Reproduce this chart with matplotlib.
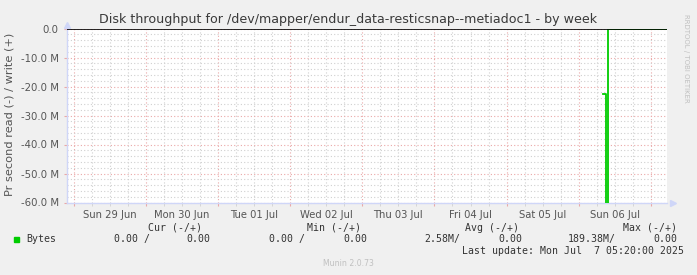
import numpy as np
import pandas as pd
import matplotlib
matplotlib.use("Agg")
import matplotlib.pyplot as plt
import matplotlib.dates as mdates
from matplotlib.ticker import FuncFormatter, MultipleLocator

# data
read_times = pd.to_datetime(["2025-07-06 08:10", "2025-07-06 08:55",
                             "2025-07-06 09:45", "2025-07-07 05:20"])
read_values = [-22.5e6, -189.38e6, 0.0, 0.0]

x_start = pd.Timestamp("2025-06-28 21:50")
x_end = pd.Timestamp("2025-07-07 05:20")
day_labels = ["Sun 29 Jun", "Mon 30 Jun", "Tue 01 Jul", "Wed 02 Jul",
              "Thu 03 Jul", "Fri 04 Jul", "Sat 05 Jul", "Sun 06 Jul"]
label_days = pd.date_range("2025-06-29 12:00", periods=len(day_labels), freq="D")

legend_heads = ["Cur (-/+)", "Min (-/+)", "Avg (-/+)", "Max (-/+)"]
legend_vals = ["0.00 /", "0.00", "0.00 /", "0.00", "2.58M/", "0.00", "189.38M/", "0.00"]

W, H = 697, 275
BG = "#f0f0f0"
GREEN = "#00cc00"
TXT = "#555555"

fig = plt.figure(figsize=(W / 100, H / 100), dpi=100, facecolor=BG)
ax = fig.add_axes([67 / W, (H - 202.5) / H, 600 / W, 174 / H])
ax.set_facecolor("white")

ax.plot(read_times, read_values, drawstyle="steps-post", color=GREEN, lw=1.3, zorder=3)
ax.axhline(0, color="black", lw=1.2, zorder=4)

ax.set_xlim(x_start, x_end)
ax.set_ylim(-60e6, 0)

# grid: minor every 6h / 2M, major at midnight / 10M
ax.xaxis.set_major_locator(mdates.DayLocator())
ax.xaxis.set_minor_locator(mdates.HourLocator(byhour=[6, 12, 18]))
ax.yaxis.set_major_locator(MultipleLocator(10e6))
ax.yaxis.set_minor_locator(MultipleLocator(2e6))
ax.grid(which="minor", color="#d0d0d0", lw=0.8, ls=(0, (1, 2)))
ax.grid(which="major", color="#eaa8a8", lw=0.8, ls=(0, (1, 2)))
ax.set_axisbelow(True)
ax.xaxis.set_ticklabels([])
ax.tick_params(axis="x", which="major", length=2, color="#eaa8a8")
ax.tick_params(axis="x", which="minor", length=2, color="#d0d0d0")
ax.tick_params(axis="y", which="major", length=2, color="#eaa8a8",
               labelsize=7.3, labelcolor=TXT, pad=4)
ax.tick_params(axis="y", which="minor", length=0)


def mfmt(v, pos):
    if v == 0:
        return "0.0"
    return f"{v / 1e6:.1f} M"


ax.yaxis.set_major_formatter(FuncFormatter(mfmt))

for d, lab in zip(label_days, day_labels):
    ax.text(d, -0.045, lab, transform=ax.get_xaxis_transform(), ha="center",
            va="top", fontsize=7.2, color=TXT)

for s in ["top", "right"]:
    ax.spines[s].set_visible(False)
for s in ["left", "bottom"]:
    ax.spines[s].set_color("#cfd6f8")
    ax.spines[s].set_linewidth(1)
# axis arrows
ax.plot([1.01], [0], marker=">", color="#cfd6f8", ms=4, transform=ax.transAxes, clip_on=False)
ax.plot([0], [1.02], marker="^", color="#cfd6f8", ms=4, transform=ax.transAxes, clip_on=False)

fig.text(348 / W, 1 - 19.5 / H, "Disk throughput for /dev/mapper/endur_data-resticsnap--metiadoc1 - by week",
         ha="center", va="center", fontsize=9.1, color="#3a3a3a")
fig.text(10 / W, 1 - 114 / H, "Pr second read (-) / write (+)", rotation=90,
         ha="center", va="center", fontsize=8.2, color=TXT)
fig.text(686 / W, 1 - 14 / H, "RRDTOOL / TOBI OETIKER", rotation=-90,
         ha="center", va="top", fontsize=5.0, color="#c0c0c0")

mono = dict(family="DejaVu Sans Mono", fontsize=7.1, color="#333333", va="center")
for xh, s in zip([148.3, 306.7, 465.0, 622.7], legend_heads):
    fig.text(xh / W, 1 - 227.7 / H, s, **mono)
fig.patches.append(plt.Rectangle((13.7 / W, 1 - 241.7 / H), 5 / W, 5 / H,
                                 transform=fig.transFigure, color=GREEN))
fig.text(26.7 / W, 1 - 239.3 / H, "Bytes", **mono)
for xv, s in zip([114.3, 186.7, 269.3, 343.0, 424.0, 498.3, 567.3, 653.3], legend_vals):
    fig.text(xv / W, 1 - 239.3 / H, s, **mono)
fig.text(461.7 / W, 1 - 251 / H, "Last update: Mon Jul  7 05:20:00 2025", **mono)
fig.text(348 / W, 1 - 264 / H, "Munin 2.0.73", ha="center", va="center",
         fontsize=5.6, color="#c0c0c0")

fig.savefig("out.png", dpi=100, facecolor=BG)
